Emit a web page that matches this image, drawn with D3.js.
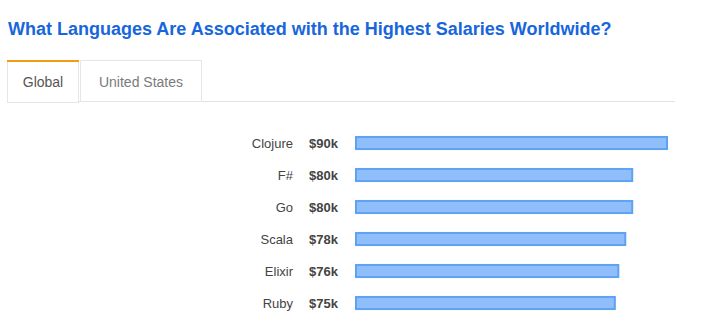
<!DOCTYPE html>
<html>
<head>
<meta charset="utf-8">
<script src="https://cdn.jsdelivr.net/npm/d3@7"></script>
<style>
  html, body { margin: 0; padding: 0; background: #fff; }
  svg { display: block; font-family: "Liberation Sans", Arial, sans-serif; }
</style>
</head>
<body>
<svg id="chart" width="713" height="322"></svg>
<script>
// Median salary by language (thousands of USD), global view
const languages = ["Clojure", "F#", "Go", "Scala", "Elixir", "Ruby"];
const salaries = [90, 80, 80, 78, 76, 75];
const tabs = ["Global", "United States"];
const titleText = "What Languages Are Associated with the Highest Salaries Worldwide?";

const svg = d3.select("#chart");

// Heading
svg.append("text")
  .attr("x", 8).attr("y", 35)
  .attr("font-size", 18).attr("font-weight", "bold")
  .attr("fill", "#1766dc")
  .text(titleText);

// Tab strip
const tabX = [7, 80];
const tabW = [72, 122];
const tabTop = 60, tabBottom = 102;

svg.append("line")
  .attr("x1", 7).attr("x2", 675)
  .attr("y1", tabBottom - 0.5).attr("y2", tabBottom - 0.5)
  .attr("stroke", "#e2e2e2").attr("stroke-width", 1);

const tabG = svg.selectAll("g.tab").data(tabs).join("g").attr("class", "tab");
tabG.append("rect")
  .attr("x", (d, i) => tabX[i] + 0.5)
  .attr("y", tabTop + 0.5)
  .attr("width", (d, i) => tabW[i] - 1)
  .attr("height", (d, i) => tabBottom - tabTop - (i === 0 ? 0 : 1))
  .attr("fill", "#fff")
  .attr("stroke", "#e6e6e6");
tabG.filter((d, i) => i === 0).append("rect")
  .attr("x", tabX[0]).attr("y", tabTop)
  .attr("width", tabW[0]).attr("height", 2)
  .attr("fill", "#f39c12");
tabG.append("text")
  .attr("x", (d, i) => tabX[i] + tabW[i] / 2)
  .attr("y", 87)
  .attr("text-anchor", "middle")
  .attr("font-size", 14)
  .attr("fill", (d, i) => i === 0 ? "#555" : "#7a7a7a")
  .text(d => d);

// Bars
const x = d3.scaleLinear().domain([0, 90]).range([355, 668]);
const y = d3.scaleBand().domain(languages).range([127, 319]).paddingInner(0.56).paddingOuter(0.28);

const rows = svg.selectAll("g.row")
  .data(languages.map((l, i) => ({ lang: l, value: salaries[i] })))
  .join("g").attr("class", "row");

rows.append("rect")
  .attr("x", x(0) + 1)
  .attr("y", d => y(d.lang) + 1)
  .attr("width", d => x(d.value) - x(0) - 2)
  .attr("height", y.bandwidth() - 2)
  .attr("fill", "#8fbefa")
  .attr("stroke", "#5ea3f3")
  .attr("stroke-width", 2);

rows.append("text")
  .attr("x", 293)
  .attr("y", d => y(d.lang) + y.bandwidth() / 2)
  .attr("dy", "0.35em")
  .attr("text-anchor", "end")
  .attr("font-size", 13)
  .attr("fill", "#444")
  .text(d => d.lang);

rows.append("text")
  .attr("x", 309)
  .attr("y", d => y(d.lang) + y.bandwidth() / 2)
  .attr("dy", "0.35em")
  .attr("font-size", 13)
  .attr("font-weight", "bold")
  .attr("fill", "#444")
  .text(d => "$" + d.value + "k");
</script>
</body>
</html>
